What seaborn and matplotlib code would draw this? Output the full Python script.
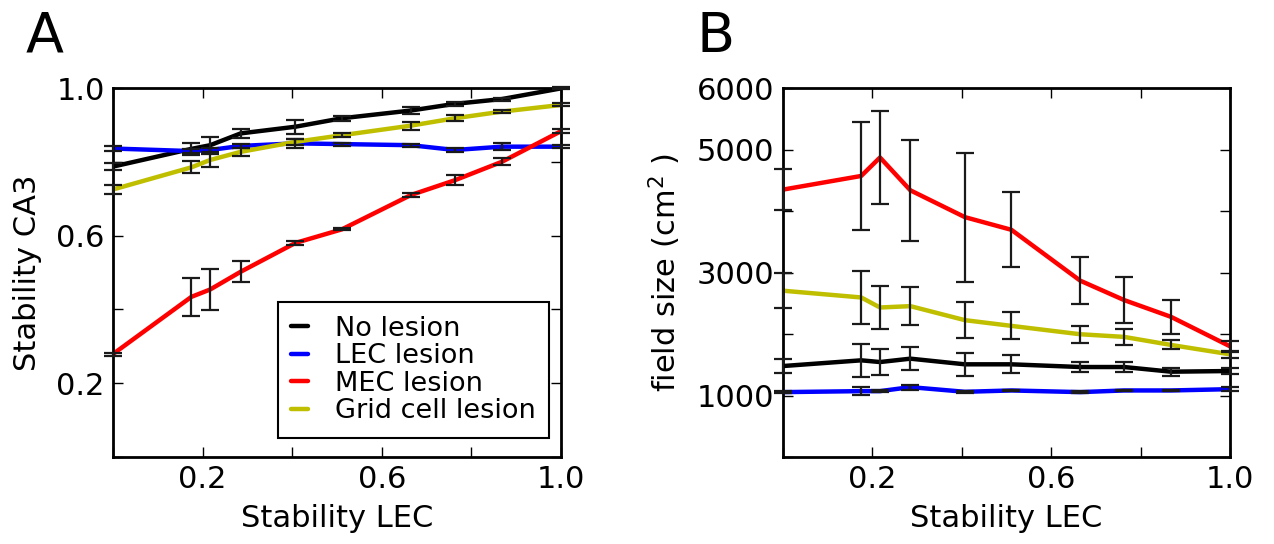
import numpy as np
import pandas as pd
import seaborn as sns
import matplotlib.pyplot as plt

# x positions (stability of LEC input)
stab_lec = [0.0, 0.175, 0.217, 0.285, 0.407, 0.511, 0.665, 0.763, 0.868, 1.0]
conditions = ["No lesion", "LEC lesion", "MEC lesion", "Grid cell lesion"]
colors = ["#000000", "#0000ff", "#ff0000", "#bfbf00"]

# Panel A: stability CA3
ca3_no = [0.787, 0.835, 0.845, 0.877, 0.895, 0.918, 0.939, 0.957, 0.970, 0.999]
ca3_no_err = [0.009, 0.016, 0.023, 0.013, 0.019, 0.007, 0.009, 0.006, 0.004, 0.003]
ca3_lec = [0.836, 0.829, 0.832, 0.843, 0.850, 0.848, 0.845, 0.832, 0.841, 0.841]
ca3_lec_err = [0.006, 0.006, 0.006, 0.005, 0.012, 0.004, 0.004, 0.005, 0.010, 0.004]
ca3_mec = [0.279, 0.434, 0.454, 0.502, 0.580, 0.617, 0.710, 0.750, 0.800, 0.883]
ca3_mec_err = [0.004, 0.052, 0.056, 0.028, 0.005, 0.003, 0.005, 0.014, 0.010, 0.006]
ca3_grid = [0.725, 0.785, 0.805, 0.827, 0.854, 0.872, 0.898, 0.918, 0.936, 0.954]
ca3_grid_err = [0.013, 0.016, 0.018, 0.010, 0.008, 0.005, 0.011, 0.008, 0.004, 0.004]

# Panel B: field size (cm^2)
fs_no = [1479, 1572, 1544, 1599, 1507, 1507, 1463, 1463, 1387, 1398]
fs_no_err = [117, 267, 210, 182, 190, 144, 87, 87, 68, 54]
fs_lec = [1055, 1071, 1071, 1136, 1060, 1082, 1055, 1082, 1082, 1103]
fs_lec_err = [20, 60, 15, 40, 15, 15, 15, 15, 15, 33]
fs_mec = [4348, 4570, 4870, 4336, 3900, 3694, 2867, 2552, 2279, 1800]
fs_mec_err = [330, 879, 754, 816, 1050, 607, 386, 367, 278, 87]
fs_grid = [2704, 2594, 2431, 2453, 2225, 2132, 1996, 1953, 1822, 1670]
fs_grid_err = [283, 430, 345, 305, 289, 218, 142, 133, 74, 55]

sns.set_theme(style="ticks")
plt.rcParams.update({
    "font.family": ["DejaVu Sans"],
    "text.color": "black", "axes.labelcolor": "black",
    "xtick.direction": "in", "ytick.direction": "in",
    "xtick.top": True, "ytick.right": True,
    "xtick.major.size": 7, "ytick.major.size": 7,
    "xtick.major.width": 1.0, "ytick.major.width": 1.0,
    "xtick.color": "black", "ytick.color": "black",
    "axes.edgecolor": "black", "axes.linewidth": 2.0,
    "xtick.labelsize": 22, "ytick.labelsize": 22,
    "axes.labelsize": 22,
})


def long_df(series):
    rows = []
    for name, vals in zip(conditions, series):
        for x, v in zip(stab_lec, vals):
            rows.append({"x": x, "y": v, "condition": name})
    return pd.DataFrame(rows)


def draw_panel(ax, series, errs, legend):
    df = long_df(series)
    sns.lineplot(data=df, x="x", y="y", hue="condition", hue_order=conditions,
                 palette=colors, linewidth=3.2, ax=ax, legend=legend, sort=False,
                 errorbar=None)
    for vals, err in zip(series, errs):
        cont = ax.errorbar(stab_lec, vals, yerr=err, fmt="none", ecolor="k",
                           elinewidth=1.6, capsize=6.5, capthick=1.6, zorder=3)
        for a in list(cont.lines[1]) + list(cont.lines[2]):
            a.set_clip_on(False)
    ax.set_xlim(0, 1)
    ax.set_xticks(np.arange(0, 1.01, 0.2))
    ax.set_xticklabels(["", "0.2", "", "0.6", "", "1.0"])
    ax.set_xlabel("Stability LEC", labelpad=7)
    ax.tick_params(axis="both", which="major", pad=6)


fig = plt.figure(figsize=(12.74, 5.44), dpi=100)
axA = fig.add_axes([113 / 1274, 87 / 544, 448 / 1274, 369 / 544])
axB = fig.add_axes([783 / 1274, 87 / 544, 447 / 1274, 369 / 544])

draw_panel(axA, [ca3_no, ca3_lec, ca3_mec, ca3_grid],
           [ca3_no_err, ca3_lec_err, ca3_mec_err, ca3_grid_err], True)
axA.set_ylim(0, 1)
axA.set_yticks(np.arange(0, 1.01, 0.2))
axA.set_yticklabels(["", "0.2", "", "0.6", "", "1.0"])
axA.set_ylabel("Stability CA3", labelpad=10)
sns.move_legend(axA, "lower right", bbox_to_anchor=(0.973, 0.0515),
                borderaxespad=0, title=None, fontsize=19.5, frameon=True,
                fancybox=False, edgecolor="black", framealpha=1,
                handlelength=0.6, handletextpad=1.0, labelspacing=0.06,
                borderpad=0.5)
axA.get_legend().get_frame().set_linewidth(1.5)

draw_panel(axB, [fs_no, fs_lec, fs_mec, fs_grid],
           [fs_no_err, fs_lec_err, fs_mec_err, fs_grid_err], False)
axB.set_ylim(0, 6000)
axB.set_yticks(np.arange(0, 6001, 1000))
axB.set_yticklabels(["", "1000", "", "3000", "", "5000", "6000"])
axB.set_ylabel("field size (cm$^2$ )", labelpad=10)

fig.text(26 / 1274, 1 - 52 / 544, "A", fontsize=40, ha="left", va="baseline")
fig.text(697 / 1274, 1 - 52 / 544, "B", fontsize=40, ha="left", va="baseline")

fig.savefig("out.png", dpi=100)
